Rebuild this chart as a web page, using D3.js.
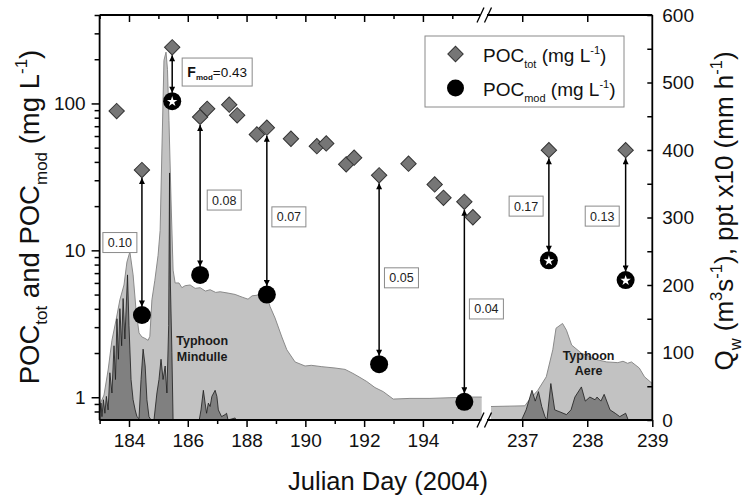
<!DOCTYPE html>
<html>
<head>
<meta charset="utf-8">
<script src="https://cdn.jsdelivr.net/npm/d3@7"></script>
<style>
  body { margin: 0; background: #fff; }
  svg { font-family: Arial, "Liberation Sans", sans-serif; }
</style>
</head>
<body>
<div id="chart"></div>
<script>
var width = 749, height = 503;

// POC_tot (diamonds): [day, mg/L]
var pocTot = [
  [183.58, 88.7], [184.44, 35.2], [185.47, 241], [186.42, 81], [186.66, 92],
  [187.41, 98], [187.68, 83], [188.35, 61.5], [188.69, 68.4], [189.51, 57.5],
  [190.39, 51.2], [190.71, 53.4], [191.39, 38.5], [191.66, 42.7], [192.51, 32.4],
  [193.51, 38.9], [194.40, 28.1], [194.70, 22.8], [195.41, 21.4], [195.70, 16.8],
  [237.41, 48.1], [238.59, 48.1]
];

// POC_mod (circles): [day, mg/L, star?]
var pocMod = [
  [184.44, 3.63, 0], [185.47, 103.7, 1], [186.42, 6.8, 0], [188.69, 5.0, 0],
  [192.51, 1.68, 0], [195.41, 0.93, 0], [237.41, 8.55, 1], [238.59, 6.28, 1]
];

// Fmod ratio labels: [text, day, mg/L]
var ratioLabels = [
  ["0.10", 183.69, 11.3], ["0.08", 187.24, 22.0], ["0.07", 189.44, 16.9],
  ["0.05", 193.27, 6.5], ["0.04", 196.16, 3.99], ["0.17", 237.06, 20.0],
  ["0.13", 238.23, 17.1]
];
var fmodLabel = [187.0, 163.6, "=0.43"];

// discharge Qw (m3/s): [day, value]
var qLeft = [
  [183.00, 22], [183.15, 37], [183.29, 74], [183.42, 118], [183.56, 148], [183.69, 178],
  [183.83, 200], [183.93, 234], [184.03, 249], [184.14, 215], [184.24, 163], [184.34, 129],
  [184.44, 123], [184.54, 121], [184.65, 118], [184.71, 124], [184.78, 178], [184.88, 207],
  [184.99, 244], [185.06, 281], [185.12, 400], [185.19, 533], [185.26, 545], [185.31, 519],
  [185.36, 444], [185.43, 326], [185.50, 222], [185.57, 203], [185.70, 203], [185.80, 196],
  [185.91, 199], [186.08, 200], [186.25, 195], [186.42, 196], [186.60, 191], [186.76, 193],
  [186.95, 189], [187.10, 190], [187.37, 188], [187.61, 186], [187.85, 182], [188.05, 179],
  [188.19, 184], [188.39, 185], [188.69, 183], [188.80, 168], [188.97, 151], [189.20, 123],
  [189.37, 104], [189.65, 86], [189.99, 80], [190.20, 81], [190.56, 79], [191.01, 77],
  [191.35, 75], [191.62, 69], [191.86, 63], [192.09, 57], [192.37, 48], [192.65, 42],
  [192.99, 31], [193.56, 32], [194.24, 32], [194.92, 33], [195.60, 34], [196.00, 34]
];
var qRight = [
  [236.52, 20], [237.04, 21], [237.11, 30], [237.24, 44], [237.37, 64], [237.47, 104],
  [237.52, 136], [237.62, 143], [237.68, 133], [237.76, 111], [237.91, 99], [238.16, 89],
  [238.30, 86], [238.47, 85], [238.55, 87], [238.62, 84], [238.68, 86], [238.80, 77],
  [238.88, 64], [239.00, 54]
];

// precipitation x10 (mm/h): [day, value]
var pptLeft = [
  [183.00, 10], [183.05, 25], [183.08, 5], [183.13, 30], [183.18, 10], [183.23, 35],
  [183.29, 15], [183.35, 70], [183.42, 40], [183.49, 110], [183.54, 60], [183.59, 150],
  [183.64, 90], [183.69, 165], [183.75, 110], [183.80, 180], [183.86, 120], [183.95, 215],
  [184.00, 140], [184.07, 60], [184.14, 30], [184.21, 15], [184.27, 5], [184.34, 2],
  [184.41, 60], [184.48, 105], [184.55, 80], [184.61, 30], [184.68, 5], [184.75, 0],
  [184.85, 0], [184.95, 40], [185.02, 60], [185.09, 90], [185.16, 60], [185.23, 80],
  [185.29, 40], [185.35, 140], [185.38, 366], [185.41, 200], [185.46, 100], [185.50, 0],
  [186.39, 0], [186.45, 15], [186.53, 44], [186.59, 25], [186.64, 10], [186.70, 25],
  [186.76, 20], [186.82, 35], [186.93, 44], [186.99, 35], [187.04, 15], [187.15, 5],
  [187.27, 8], [187.32, 10], [187.37, 0], [187.61, 3], [187.64, 0], [196.00, 0]
];
var pptRight = [
  [236.99, 0], [237.06, 15], [237.15, 44], [237.20, 28], [237.25, 42], [237.30, 20],
  [237.35, 5], [237.38, 0], [237.44, 54], [237.50, 15], [237.58, 12], [237.68, 8],
  [237.75, 15], [237.81, 34], [237.91, 49], [237.97, 28], [238.04, 34], [238.12, 30],
  [238.15, 34], [238.21, 28], [238.26, 38], [238.35, 15], [238.43, 10], [238.50, 5],
  [238.59, 10], [238.63, 0], [239.00, 0]
];

var typhoons = [
  ["Typhoon", "Mindulle", 186.49, 111],
  ["Typhoon", "Aere", 238.02, 89]
];

var leftMajor = [184, 186, 188, 190, 192, 194];
var leftMinor = [183, 185, 187, 189, 191, 193, 195];
var rightTicks = [237, 238, 239];
var logMajor = [1, 10, 100];
var logMinor = [0.8, 0.9, 2, 3, 4, 5, 6, 7, 8, 9, 20, 30, 40, 50, 60, 70, 80, 90, 200, 300, 400];
var qTicks = [0, 100, 200, 300, 400, 500, 600];
var qMinor = [50, 150, 250, 350, 450, 550];

// layout
var x0 = 99.6, x1 = 481.7, x2 = 491, x3 = 652.3, yTop = 15, yBot = 420;

var xL = d3.scaleLinear().domain([183, 196]).range([x0, x1]);
var xR = d3.scaleLinear().domain([236.52, 239]).range([x2, x3]);
function xOf(d) { return d < 200 ? xL(d) : xR(d); }
var yL = d3.scaleLog().domain([0.7, 400]).range([yBot, yTop]);
var yR = d3.scaleLinear().domain([0, 600]).range([yBot, yTop]);

var svg = d3.select("#chart").append("svg")
  .attr("width", width)
  .attr("height", height);

var defs = svg.append("defs");
defs.append("marker")
  .attr("id", "head")
  .attr("viewBox", "0 0 10 10")
  .attr("refX", 10).attr("refY", 5)
  .attr("markerWidth", 7).attr("markerHeight", 6)
  .attr("markerUnits", "userSpaceOnUse")
  .attr("orient", "auto-start-reverse")
  .append("path").attr("d", "M0,0L10,5L0,10Z").attr("fill", "#000");

// areas
function drawArea(data, xs, fill, stroke, sw) {
  var area = d3.area()
    .x(function(d) { return xs(d[0]); })
    .y0(yBot)
    .y1(function(d) { return yR(d[1]); });
  var line = d3.line()
    .x(function(d) { return xs(d[0]); })
    .y(function(d) { return yR(d[1]); });
  svg.append("path").datum(data).attr("d", area).attr("fill", fill);
  svg.append("path").datum(data).attr("d", line)
    .attr("fill", "none").attr("stroke", stroke).attr("stroke-width", sw);
}
drawArea(qLeft, xL, "#c2c2c2", "#8a8a8a", 1);
drawArea(qRight, xR, "#c2c2c2", "#8a8a8a", 1);
drawArea(pptLeft, xL, "#808080", "#1a1a1a", 0.8);
drawArea(pptRight, xR, "#808080", "#1a1a1a", 0.8);

// typhoon labels
typhoons.forEach(function(t) {
  var tx = svg.append("text")
    .attr("x", xOf(t[2])).attr("y", yR(t[3]))
    .attr("text-anchor", "middle")
    .attr("font-size", 12.5).attr("font-weight", "bold").attr("fill", "#1a1a1a");
  tx.append("tspan").text(t[0]);
  tx.append("tspan").attr("x", xOf(t[2])).attr("dy", 15.5).text(t[1]);
});

// arrows between POC_tot and POC_mod
var totByDay = {};
pocTot.forEach(function(d) { totByDay[d[0]] = d[1]; });
pocMod.forEach(function(d) {
  var yt = yL(totByDay[d[0]]) + 8, ym = yL(d[1]) - 8.5;
  svg.append("line")
    .attr("x1", xOf(d[0])).attr("x2", xOf(d[0]))
    .attr("y1", yt).attr("y2", ym)
    .attr("stroke", "#000").attr("stroke-width", 1.5)
    .attr("marker-start", "url(#head)").attr("marker-end", "url(#head)");
});

// ratio boxes
ratioLabels.forEach(function(r) {
  var cx = xOf(r[1]), cy = yL(r[2]);
  svg.append("rect")
    .attr("x", cx - 17).attr("y", cy - 10).attr("width", 34).attr("height", 20)
    .attr("fill", "#fff").attr("stroke", "#8a8a8a").attr("stroke-width", 1);
  svg.append("text").attr("x", cx).attr("y", cy + 4.5)
    .attr("text-anchor", "middle").attr("font-size", 12.5).attr("fill", "#222")
    .text(r[0]);
});
(function() {
  var cx = xOf(fmodLabel[0]), cy = yL(fmodLabel[1]);
  svg.append("rect")
    .attr("x", cx - 35).attr("y", cy - 14).attr("width", 70).attr("height", 28)
    .attr("fill", "#fff").attr("stroke", "#8a8a8a").attr("stroke-width", 1);
  var t = svg.append("text").attr("x", cx).attr("y", cy + 5)
    .attr("text-anchor", "middle").attr("font-size", 13.5).attr("fill", "#111");
  t.append("tspan").attr("font-weight", "bold").attr("font-size", 14).text("F");
  t.append("tspan").attr("font-weight", "bold").attr("font-size", 8).attr("dy", 3).text("mod");
  t.append("tspan").attr("dy", -3).text(fmodLabel[2]);
})();

// markers
var diamond = d3.symbol().type(d3.symbolSquare).size(118);
svg.selectAll(".tot").data(pocTot).enter().append("path")
  .attr("class", "tot")
  .attr("d", diamond)
  .attr("transform", function(d) { return "translate(" + xOf(d[0]) + "," + yL(d[1]) + ") rotate(45)"; })
  .attr("fill", "#767676").attr("stroke", "#333").attr("stroke-width", 1);

svg.selectAll(".mod").data(pocMod).enter().append("circle")
  .attr("class", "mod")
  .attr("cx", function(d) { return xOf(d[0]); })
  .attr("cy", function(d) { return yL(d[1]); })
  .attr("r", 9).attr("fill", "#000");

svg.selectAll(".star").data(pocMod.filter(function(d) { return d[2]; })).enter().append("path")
  .attr("class", "star")
  .attr("d", d3.symbol().type(d3.symbolStar).size(34))
  .attr("transform", function(d) { return "translate(" + xOf(d[0]) + "," + (yL(d[1]) + 0.5) + ")"; })
  .attr("fill", "#fff");

// axes
function styleAxis(g, fs) {
  g.select(".domain").remove();
  g.selectAll("line").attr("stroke", "#000").attr("stroke-width", 1.5);
  g.selectAll("text").attr("font-size", fs).attr("fill", "#111")
    .attr("font-family", "Arial, 'Liberation Sans', sans-serif");
}
var fmt = d3.format("d");

svg.append("g").attr("transform", "translate(0," + yBot + ")")
  .call(d3.axisBottom(xL).tickValues(leftMajor).tickSize(7).tickPadding(7).tickFormat(fmt))
  .call(styleAxis, 19);
svg.append("g").attr("transform", "translate(0," + yBot + ")")
  .call(d3.axisBottom(xL).tickValues(leftMinor).tickSize(4).tickFormat(""))
  .call(styleAxis, 19);
svg.append("g").attr("transform", "translate(0," + yBot + ")")
  .call(d3.axisBottom(xR).tickValues(rightTicks).tickSize(7).tickPadding(7).tickFormat(fmt))
  .call(styleAxis, 19);
// top mirror ticks (inward)
svg.append("g").attr("transform", "translate(0," + yTop + ")")
  .call(d3.axisBottom(xL).tickValues(leftMajor).tickSize(7).tickFormat(""))
  .call(styleAxis, 19);
svg.append("g").attr("transform", "translate(0," + yTop + ")")
  .call(d3.axisBottom(xL).tickValues(leftMinor).tickSize(4).tickFormat(""))
  .call(styleAxis, 19);
svg.append("g").attr("transform", "translate(0," + yTop + ")")
  .call(d3.axisBottom(xR).tickValues(rightTicks.slice(0, 2)).tickSize(7).tickFormat(""))
  .call(styleAxis, 19);

svg.append("g").attr("transform", "translate(" + x0 + ",0)")
  .call(d3.axisLeft(yL).tickValues(logMajor).tickSize(8).tickPadding(6).tickFormat(fmt))
  .call(styleAxis, 19);
svg.append("g").attr("transform", "translate(" + x0 + ",0)")
  .call(d3.axisLeft(yL).tickValues(logMinor).tickSize(5).tickFormat(""))
  .call(styleAxis, 19);

svg.append("g").attr("transform", "translate(" + x3 + ",0)")
  .call(d3.axisRight(yR).tickValues(qTicks).tickSizeInner(-5).tickSizeOuter(0).tickPadding(10).tickFormat(fmt))
  .call(styleAxis, 19);
svg.append("g").attr("transform", "translate(" + x3 + ",0)")
  .call(d3.axisRight(yR).tickValues(qMinor).tickSizeInner(-5).tickSizeOuter(0).tickFormat(""))
  .call(styleAxis, 19);

// frame with axis break
var frame = svg.append("g").attr("stroke", "#000").attr("stroke-width", 1.8).attr("fill", "none");
frame.append("path").attr("d",
  "M" + x0 + "," + yTop + "V" + yBot +
  "M" + x3 + "," + yTop + "V" + yBot +
  "M" + x0 + "," + yTop + "H" + 480 + "M" + 487 + "," + yTop + "H" + x3 +
  "M" + x0 + "," + yBot + "H" + 480 + "M" + 487 + "," + yBot + "H" + x3);
[yTop, yBot].forEach(function(yy) {
  [477, 484.5].forEach(function(xx) {
    frame.append("line")
      .attr("x1", xx).attr("y1", yy + 7.5)
      .attr("x2", xx + 7).attr("y2", yy - 7.5)
      .attr("stroke-width", 1.3);
  });
});

// rich text helper
function rich(sel, parts, fs, sfs) {
  var shift = 0;
  parts.forEach(function(p) {
    var target = p[1] === "sub" ? fs * 0.3 : p[1] === "sup" ? -fs * 0.42 : 0;
    sel.append("tspan")
      .attr("font-size", p[1] ? sfs : fs)
      .attr("dy", target - shift)
      .text(p[0]);
    shift = target;
  });
}

// legend
var lg = svg.append("g");
lg.append("rect").attr("x", 425).attr("y", 36).attr("width", 199).attr("height", 71)
  .attr("fill", "#fff").attr("stroke", "#8a8a8a").attr("stroke-width", 1);
lg.append("path").attr("d", diamond)
  .attr("transform", "translate(455.5,54) rotate(45)")
  .attr("fill", "#767676").attr("stroke", "#333").attr("stroke-width", 1);
lg.append("circle").attr("cx", 455.5).attr("cy", 88).attr("r", 8.5).attr("fill", "#000");
rich(lg.append("text").attr("x", 483).attr("y", 62).attr("fill", "#111"),
  [["POC"], ["tot", "sub"], [" (mg L"], ["-1", "sup"], [")"]], 19, 11);
rich(lg.append("text").attr("x", 483).attr("y", 96).attr("fill", "#111"),
  [["POC"], ["mod", "sub"], [" (mg L"], ["-1", "sup"], [")"]], 19, 11);

// axis titles
rich(svg.append("text").attr("text-anchor", "middle")
    .attr("transform", "translate(39," + 217 + ") rotate(-90)").attr("fill", "#111"),
  [["POC"], ["tot", "sub"], [" and  POC"], ["mod", "sub"], [" (mg L"], ["-1", "sup"], [")"]], 27.5, 17);
rich(svg.append("text").attr("text-anchor", "middle")
    .attr("transform", "translate(733," + 211 + ") rotate(-90)").attr("fill", "#111"),
  [["Q"], ["w", "sub"], [" (m"], ["3", "sup"], ["s"], ["-1", "sup"], ["), ppt x10 (mm h"], ["-1", "sup"], [")"]], 26, 16.5);
svg.append("text").attr("x", 388).attr("y", 490).attr("text-anchor", "middle")
  .attr("font-size", 25.5).attr("fill", "#111").text("Julian Day (2004)");
</script>
</body>
</html>
